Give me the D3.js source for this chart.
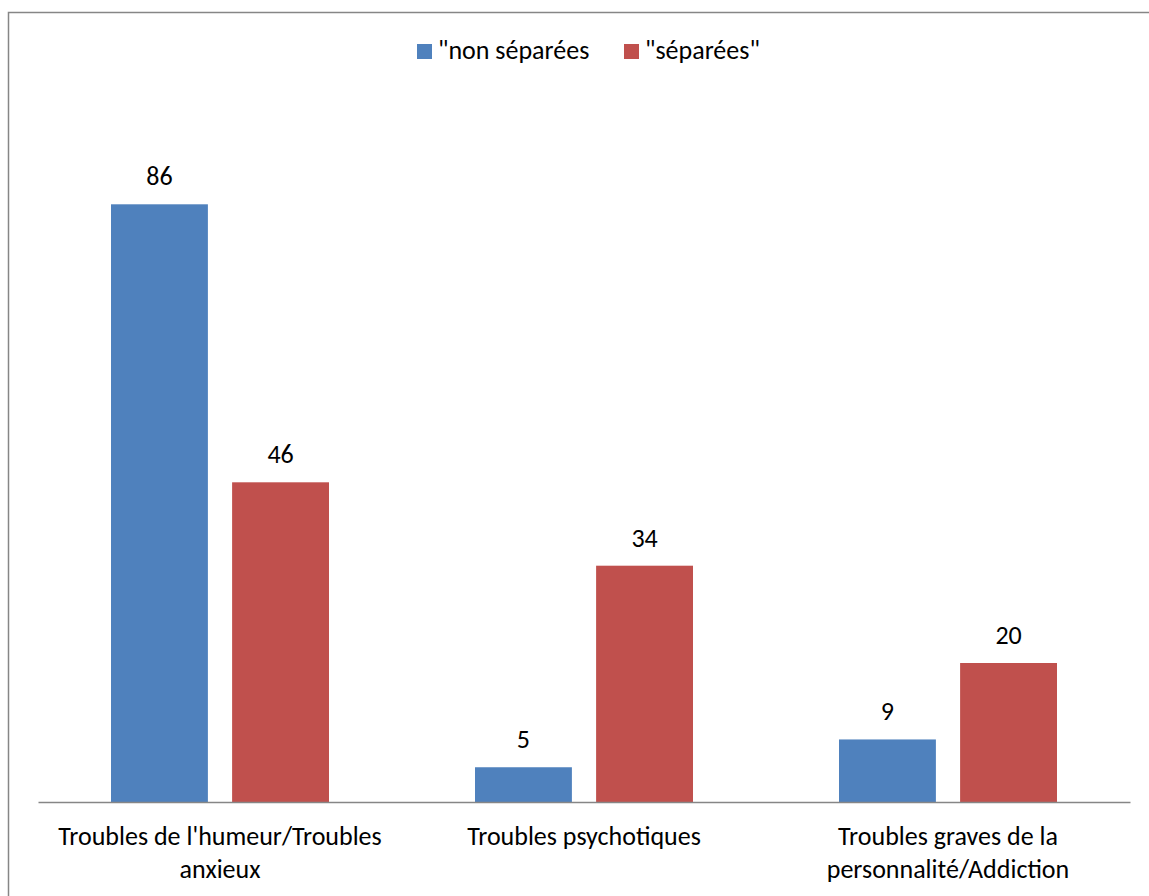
<!DOCTYPE html>
<html><head><meta charset="utf-8">
<script src="https://cdn.jsdelivr.net/npm/d3@7"></script>
<style>
html,body{margin:0;padding:0;background:#fff;}
text{font-family:Carlito, Calibri, Lato, sans-serif;fill:#000;}
</style></head>
<body><svg id="c" width="1149" height="896"></svg>
<script>
const categories = ["Troubles de l'humeur/Troubles anxieux", "Troubles psychotiques", "Troubles graves de la personnalité/Addiction"];
const seriesNames = ["\"non séparées", "\"séparées\""];
const nonSeparees = [86, 5, 9];
const separees = [46, 34, 20];
const colors = ["#4F81BD", "#C0504D"];

(function () {
const svg = d3.select("#c");
const W = 1149, H = 896;
const fs = 26;

// frame
svg.append("rect").attr("x", 8.5).attr("y", 12.5).attr("width", W + 10).attr("height", H + 10)
  .attr("fill", "#fff").attr("stroke", "#868686").attr("stroke-width", 1.5);

const plotLeft = 38, plotRight = 1130, base = 802, plotTop = 107;
const x0 = d3.scaleBand().domain(categories).range([plotLeft, plotRight]).paddingInner(0).paddingOuter(0);
const x1 = d3.scaleBand().domain(seriesNames).range([73, 364 - 73]).paddingInner(0.2);
const y = d3.scaleLinear().domain([0, 100]).range([base, plotTop]);

const data = categories.map((c, i) => ({cat: c, vals: [nonSeparees[i], separees[i]]}));

const g = svg.selectAll("g.grp").data(data).join("g").attr("class", "grp")
  .attr("transform", d => `translate(${x0(d.cat)},0)`);

g.selectAll("rect").data(d => d.vals.map((v, j) => ({v, s: seriesNames[j], j})))
  .join("rect")
  .attr("x", d => x1(d.s)).attr("width", x1.bandwidth())
  .attr("y", d => y(d.v)).attr("height", d => base - y(d.v))
  .attr("fill", d => colors[d.j]);

g.selectAll("text.val").data(d => d.vals.map((v, j) => ({v, s: seriesNames[j], j})))
  .join("text").attr("class", "val")
  .attr("x", d => x1(d.s) + x1.bandwidth() / 2)
  .attr("y", d => y(d.v) - 19)
  .attr("text-anchor", "middle").style("font-size", fs + "px")
  .text(d => d.v);

// axis line
const xAxis = d3.axisBottom(x0).tickSize(0).tickFormat("");
const ax = svg.append("g").attr("transform", `translate(0,${base})`).call(xAxis);
ax.select(".domain").attr("stroke", "#868686").attr("stroke-width", 1.5);

// category labels with wrapping
function wrapLines(text, maxW) {
  const tmp = svg.append("text").style("font-size", fs + "px");
  const words = text.split(" ");
  const lines = [];
  let cur = "";
  for (const w of words) {
    const t = cur ? cur + " " + w : w;
    tmp.text(t);
    if (tmp.node().getComputedTextLength() > maxW && cur) { lines.push(cur); cur = w; }
    else cur = t;
  }
  lines.push(cur);
  tmp.remove();
  return lines;
}
categories.forEach(c => {
  const lines = wrapLines(c, 350);
  const t = svg.append("text").attr("text-anchor", "middle").style("font-size", fs + "px");
  lines.forEach((l, i) => {
    t.append("tspan").attr("x", x0(c) + x0.bandwidth() / 2).attr("y", 845 + i * 33).text(l);
  });
});

// legend
const legX = [417, 624];
seriesNames.forEach((s, i) => {
  svg.append("rect").attr("x", legX[i]).attr("y", 44).attr("width", 15).attr("height", 15).attr("fill", colors[i]);
  svg.append("text").attr("x", legX[i] + 21).attr("y", 59).style("font-size", fs + "px").text(s);
});
})();
</script></body></html>
